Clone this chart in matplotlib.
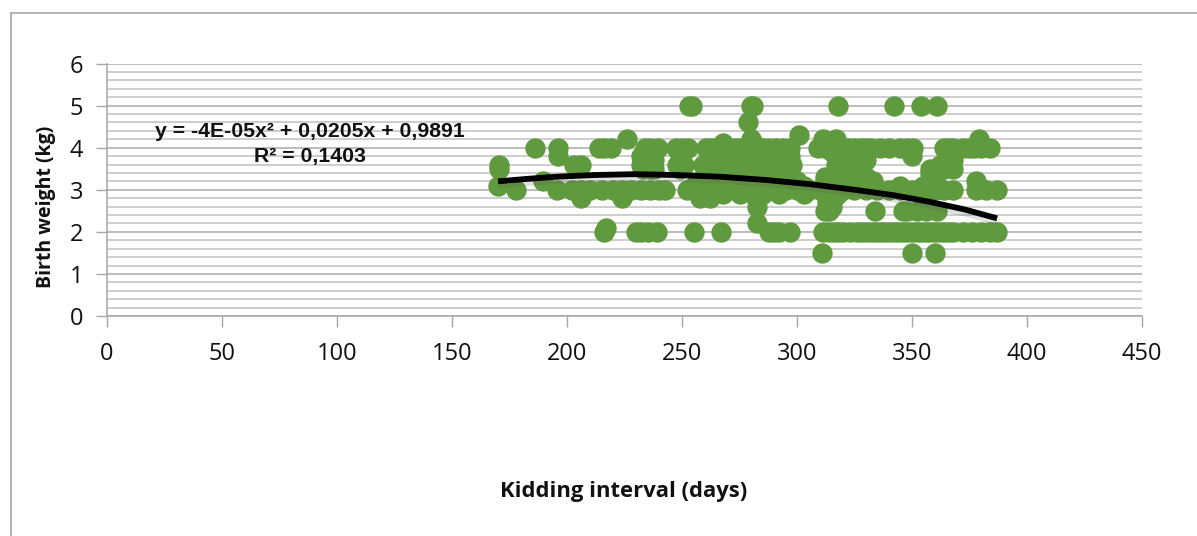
import matplotlib
matplotlib.use("Agg")
import matplotlib.pyplot as plt
import matplotlib.patheffects as pe
from matplotlib.lines import Line2D
from matplotlib.ticker import MultipleLocator

# Kidding interval (days) for each birth weight (kg)
w_5_0 = [253, 254.5, 280, 281, 318, 342, 354, 361]
w_4_6 = [278.5]
w_4_3 = [301]
w_4_2 = [226, 280, 311.5, 317, 379]
w_4_1 = [268, 281]
w_4_0 = [186, 196, 214, 216, 219, 234, 236, 239.5, 247.5, 250, 252.5, 260.5, 262, 264, 268, 270, 272, 274, 276, 278, 280, 282,
         285, 288, 291, 294, 297, 309, 312, 315, 318, 320, 322, 325, 328, 330, 332, 336, 340, 345, 348, 350.5,
         364, 366, 368, 372, 375, 377, 380, 384]
w_3_9 = [263, 268, 272, 276, 280, 284, 288, 293, 315, 320, 325, 330]
w_3_8 = [196, 232, 236, 249, 265, 270, 272, 276, 278, 283, 287, 292, 297, 350, 318, 322, 326, 329]
w_3_7 = [234, 238, 265, 270, 274, 278, 282, 285, 290, 295, 318, 322, 324, 328, 330, 368, 366]
w_3_6 = [170.5, 203, 206, 232, 235, 237.5, 248, 251, 259, 263, 267, 271, 275, 280, 284, 288, 292.5, 296, 298,
         317, 321, 325, 328, 362, 366.5]
w_3_5 = [170.5, 233, 236, 238, 249, 260, 264, 270, 275, 280, 285, 292, 297, 320, 326, 358, 361, 364, 368]
w_3_4 = [262, 268, 274, 280, 288, 295, 318, 322, 328, 358, 361]
w_3_3 = [265, 272, 280, 290, 312, 320, 326, 330]
w_3_2 = [189.5, 262, 270, 278, 285, 292, 300, 312, 316, 322, 328, 333, 378]
w_3_1 = [170, 303, 255, 260, 265, 270, 275, 280, 285, 290, 295, 318, 325, 345, 355]
w_3_0 = [178, 195.5, 202, 206, 210, 215, 220, 224, 228, 232, 236, 240, 242.5, 252, 256, 260, 265, 270, 275, 280, 285,
         290, 295, 300, 305, 310, 315, 320, 325, 330, 335, 340, 345, 350, 355, 360, 364, 368, 378, 382, 387]
w_2_9 = [258, 263, 268, 275, 285, 292, 303, 312, 318]
w_2_8 = [206, 224, 258, 262, 282, 314, 316]
w_2_7 = [313, 315]
w_2_6 = [282.5, 315]
w_2_5 = [312, 314, 334, 346, 348, 352, 356, 361]
w_2_2 = [282.5]
w_2_1 = [217]
w_2_0 = [216, 230, 232, 235, 239, 255, 267, 288, 290, 292, 297, 311.5, 314, 316, 318, 320, 323, 326, 328, 330, 332, 334,
         336, 338, 340, 342, 344, 346, 348, 350, 352, 354, 356, 358, 360, 362, 364, 366, 368, 372, 376, 380, 384, 387]
w_1_5 = [311, 350, 360]

groups = [(5.0, w_5_0), (4.6, w_4_6), (4.3, w_4_3), (4.2, w_4_2), (4.1, w_4_1), (4.0, w_4_0), (3.9, w_3_9), (3.8, w_3_8),
          (3.7, w_3_7), (3.6, w_3_6), (3.5, w_3_5), (3.4, w_3_4), (3.3, w_3_3), (3.2, w_3_2), (3.1, w_3_1),
          (3.0, w_3_0), (2.9, w_2_9), (2.8, w_2_8), (2.7, w_2_7), (2.6, w_2_6), (2.5, w_2_5), (2.2, w_2_2),
          (2.1, w_2_1), (2.0, w_2_0), (1.5, w_1_5)]

trend_x = [170, 183, 195.5, 212, 229, 248, 266.5, 287, 306, 325, 342, 358, 373, 387]
trend_y = [3.20, 3.26, 3.31, 3.35, 3.37, 3.35, 3.31, 3.23, 3.13, 3.00, 2.87, 2.71, 2.53, 2.32]

x_ticks = [0, 50, 100, 150, 200, 250, 300, 350, 400, 450]
y_ticks = [0, 1, 2, 3, 4, 5, 6]

W, H = 1197, 536
fig = plt.figure(figsize=(W / 100, H / 100), dpi=100, facecolor="white")
ax = fig.add_axes([107 / W, 1 - 316 / H, (1142 - 107) / W, (316 - 63.5) / H])
ax.set_xlim(0, 450)
ax.set_ylim(0, 6)

for s in ("top", "right"):
    ax.spines[s].set_visible(False)
for s in ("left", "bottom"):
    ax.spines[s].set_color("#a6a6a6")
    ax.spines[s].set_linewidth(1.1)

ax.set_xticks(x_ticks)
ax.set_yticks(y_ticks)
ax.yaxis.set_minor_locator(MultipleLocator(0.2))
ax.tick_params(axis="both", which="major", length=8, width=1.0, color="#a6a6a6", labelsize=17,
               labelcolor="#111111", pad=11)
ax.tick_params(axis="y", which="minor", length=0)
ax.tick_params(axis="y", which="major", pad=9)
for lab in ax.get_xticklabels() + ax.get_yticklabels():
    lab.set_fontfamily("Open Sans")
ax.grid(axis="y", which="major", color="#a9a9a9", lw=1.1, zorder=1)
ax.grid(axis="y", which="minor", color="#c9c9c9", lw=1.3, zorder=1)
ax.set_axisbelow(True)

xs = [x for _, g in groups for x in g]
ys = [w for w, g in groups for _ in g]
ax.scatter(xs, ys, s=215, color="#609a3f", linewidths=0, zorder=3, clip_on=False)

ax.plot(trend_x, trend_y, color="black", lw=4.2, zorder=4, solid_capstyle="butt", solid_joinstyle="round",
        path_effects=[pe.SimpleLineShadow(offset=(0, -3), shadow_color="#555555", alpha=0.18),
                      pe.Normal()])

eq_font = dict(family="Liberation Sans", weight="bold", color="#111111", ha="center", va="center", fontsize=15.3)
fig.text(310 / W, 1 - 132 / H, "y = -4E-05x² + 0,0205x + 0,9891", **eq_font)
fig.text(310 / W, 1 - 156 / H, "R² = 0,1403", **eq_font)

fig.text(624 / W, 1 - 492 / H, "Kidding interval (days)", family="Open Sans", weight="bold",
         fontsize=15.8, color="#111111", ha="center", va="center")
fig.text(46 / W, 1 - 207 / H, "Birth weight (kg)", family="Open Sans", weight="bold",
         fontsize=14, color="#111111", ha="center", va="center", rotation=90)

fig.add_artist(Line2D([10.5 / W, 10.5 / W], [0, 1 - 12.5 / H], color="#a6a6a6", lw=1.2))
fig.add_artist(Line2D([10.5 / W, 1], [1 - 12.5 / H, 1 - 12.5 / H], color="#a6a6a6", lw=1.2))

fig.savefig("out.png", dpi=100, facecolor="white")
